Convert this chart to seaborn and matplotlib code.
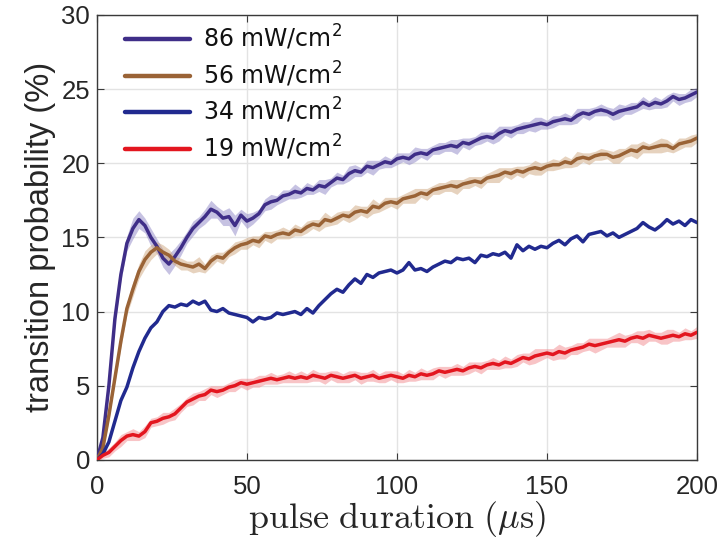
import numpy as np
import pandas as pd
import matplotlib
matplotlib.use("Agg")
import matplotlib.pyplot as plt
import seaborn as sns

# pulse duration (us), every 2 us
t_us = list(range(0, 201, 2))

p86 = [0, 1.5, 5.0, 9.5, 12.5, 14.6, 15.6, 16.2, 15.8, 15.0, 14.4, 13.6, 13.2, 13.7, 14.3, 15.0,
       15.6, 16.0, 16.4, 16.9, 16.7, 16.3, 16.4, 15.8, 16.5, 16.1, 16.3, 16.6, 17.2, 17.4, 17.5,
       17.8, 17.9, 18.1, 18.0, 18.3, 18.2, 18.5, 18.4, 18.7, 19.0, 18.9, 19.3, 19.5, 19.4, 19.8,
       19.7, 19.9, 20.1, 20.0, 20.3, 20.4, 20.3, 20.6, 20.7, 20.6, 20.9, 21.0, 21.1, 21.2, 21.1,
       21.4, 21.3, 21.5, 21.7, 21.8, 21.7, 22.0, 22.2, 22.1, 22.3, 22.4, 22.5, 22.6, 22.7, 22.6,
       22.8, 22.9, 23.0, 22.9, 23.2, 23.4, 23.3, 23.5, 23.6, 23.5, 23.3, 23.5, 23.6, 23.7, 23.8,
       24.1, 23.9, 24.1, 24.0, 24.2, 24.5, 24.3, 24.4, 24.6, 24.8]
p56 = [0, 0.8, 3.0, 5.5, 8.0, 10.2, 11.5, 12.7, 13.5, 14.0, 14.3, 14.0, 13.8, 13.4, 13.2, 13.1,
       13.0, 13.2, 12.9, 13.4, 13.7, 13.6, 14.0, 14.3, 14.5, 14.6, 14.8, 14.7, 15.1, 15.0, 15.2,
       15.3, 15.2, 15.5, 15.4, 15.7, 15.9, 15.8, 16.2, 16.1, 16.3, 16.5, 16.4, 16.7, 16.8, 16.7,
       17.1, 17.0, 17.3, 17.4, 17.3, 17.6, 17.7, 17.8, 18.0, 17.9, 18.2, 18.3, 18.4, 18.5, 18.4,
       18.6, 18.7, 18.8, 18.7, 19.0, 19.1, 19.2, 19.4, 19.3, 19.5, 19.4, 19.6, 19.7, 19.6, 19.8,
       19.9, 19.9, 20.1, 20.0, 20.3, 20.4, 20.3, 20.5, 20.6, 20.6, 20.4, 20.5, 20.7, 20.9, 20.8,
       21.1, 21.0, 21.1, 21.2, 21.2, 21.0, 21.3, 21.4, 21.5, 21.7]
p34 = [0, 0.4, 1.2, 2.6, 4.0, 4.9, 6.2, 7.3, 8.2, 8.9, 9.3, 10.0, 10.4, 10.3, 10.5, 10.4,
       10.7, 10.5, 10.7, 10.1, 10.0, 10.2, 9.9, 9.8, 9.7, 9.6, 9.3, 9.6, 9.5, 9.6, 9.9,
       9.8, 9.9, 10.0, 9.8, 10.2, 9.9, 10.4, 10.8, 11.2, 11.5, 11.3, 11.8, 12.2, 11.9, 12.5,
       12.3, 12.6, 12.7, 12.8, 12.6, 12.8, 13.3, 12.8, 12.9, 12.7, 13.0, 13.2, 13.4, 13.3, 13.6,
       13.5, 13.6, 13.3, 13.8, 13.7, 13.9, 13.8, 14.0, 13.6, 14.5, 14.1, 14.4, 14.2, 14.4, 14.3,
       14.6, 14.8, 14.5, 14.9, 15.1, 14.7, 15.2, 15.3, 15.4, 15.1, 15.3, 15.0, 15.2, 15.4, 15.6,
       16.0, 15.7, 15.5, 15.8, 16.2, 15.9, 16.1, 15.8, 16.2, 16.0]
p19 = [0, 0.3, 0.5, 0.9, 1.3, 1.6, 1.7, 1.6, 1.9, 2.5, 2.6, 2.8, 2.9, 3.1, 3.5, 3.9,
       4.1, 4.3, 4.4, 4.7, 4.6, 4.7, 4.9, 5.0, 5.2, 5.1, 5.2, 5.3, 5.4, 5.5, 5.4,
       5.5, 5.6, 5.5, 5.6, 5.5, 5.7, 5.6, 5.5, 5.7, 5.6, 5.5, 5.6, 5.7, 5.5, 5.6,
       5.7, 5.5, 5.6, 5.7, 5.6, 5.5, 5.7, 5.6, 5.8, 5.7, 5.8, 6.0, 5.9, 6.0, 6.1,
       6.0, 6.2, 6.3, 6.2, 6.4, 6.5, 6.4, 6.6, 6.5, 6.7, 6.9, 6.8, 7.0, 7.1, 7.2,
       7.1, 7.3, 7.2, 7.4, 7.5, 7.6, 7.8, 7.7, 7.8, 7.9, 8.0, 8.1, 8.0, 8.2, 8.3,
       8.2, 8.4, 8.3, 8.2, 8.3, 8.4, 8.3, 8.5, 8.4, 8.6]

# half-width of shaded uncertainty bands
e86 = [0.1, 0.2, 0.3, 0.4, 0.4, 0.5, 0.7, 0.6, 0.5, 0.6, 0.5, 0.6, 0.7, 0.6, 0.5, 0.4,
       0.5, 0.4, 0.5, 0.6, 0.4, 0.5, 0.6, 0.7, 0.4, 0.5, 0.4, 0.3, 0.4, 0.5, 0.3,
       0.4, 0.3, 0.5, 0.3, 0.4, 0.3, 0.4, 0.5, 0.3, 0.4, 0.3, 0.5, 0.4, 0.3, 0.4,
       0.5, 0.3, 0.4, 0.3, 0.4, 0.3, 0.4, 0.5, 0.3, 0.4, 0.3, 0.4, 0.3, 0.4, 0.5,
       0.3, 0.4, 0.3, 0.4, 0.3, 0.4, 0.5, 0.3, 0.4, 0.3, 0.4, 0.3, 0.5, 0.4, 0.3,
       0.4, 0.3, 0.4, 0.3, 0.5, 0.3, 0.4, 0.3, 0.4, 0.3, 0.4, 0.5, 0.3, 0.4, 0.3,
       0.4, 0.3, 0.4, 0.3, 0.4, 0.3, 0.4, 0.3, 0.4, 0.3]
e56 = [0.1, 0.2, 0.3, 0.3, 0.4, 0.4, 0.5, 0.5, 0.6, 0.5, 0.4, 0.5, 0.4, 0.3, 0.4, 0.3,
       0.4, 0.5, 0.3, 0.4, 0.3, 0.4, 0.3, 0.4, 0.3, 0.4, 0.3, 0.4, 0.3, 0.4, 0.3,
       0.4, 0.3, 0.4, 0.3, 0.4, 0.3, 0.4, 0.5, 0.3, 0.4, 0.3, 0.4, 0.5, 0.3, 0.4,
       0.5, 0.3, 0.4, 0.3, 0.4, 0.3, 0.4, 0.5, 0.3, 0.4, 0.3, 0.4, 0.3, 0.4, 0.5,
       0.3, 0.4, 0.3, 0.4, 0.3, 0.4, 0.5, 0.3, 0.4, 0.3, 0.4, 0.3, 0.5, 0.4, 0.3,
       0.4, 0.3, 0.4, 0.3, 0.5, 0.3, 0.4, 0.3, 0.4, 0.3, 0.4, 0.5, 0.3, 0.4, 0.5,
       0.4, 0.3, 0.4, 0.5, 0.4, 0.3, 0.4, 0.3, 0.4, 0.3]
e34 = [0.05] * 101
e19 = [0.1, 0.2, 0.3, 0.3, 0.4, 0.3, 0.4, 0.3, 0.4, 0.3, 0.3, 0.4, 0.3, 0.4, 0.3, 0.3,
       0.4, 0.3, 0.4, 0.3, 0.4, 0.3, 0.3, 0.4, 0.3, 0.4, 0.3, 0.4, 0.3, 0.4, 0.3,
       0.3, 0.4, 0.3, 0.4, 0.3, 0.4, 0.3, 0.4, 0.3, 0.4, 0.3, 0.4, 0.3, 0.4, 0.3,
       0.4, 0.3, 0.4, 0.3, 0.4, 0.3, 0.4, 0.3, 0.4, 0.3, 0.4, 0.3, 0.4, 0.3, 0.4,
       0.3, 0.4, 0.3, 0.4, 0.3, 0.4, 0.3, 0.4, 0.3, 0.4, 0.3, 0.4, 0.5, 0.4, 0.3,
       0.4, 0.5, 0.4, 0.3, 0.4, 0.3, 0.4, 0.5, 0.4, 0.3, 0.4, 0.5, 0.4, 0.3, 0.4,
       0.5, 0.4, 0.3, 0.4, 0.5, 0.4, 0.3, 0.4, 0.3, 0.4]

labels = ["86 mW/cm$^2$", "56 mW/cm$^2$", "34 mW/cm$^2$", "19 mW/cm$^2$"]
series = [p86, p56, p34, p19]
errors = [e86, e56, e34, e19]
colors = ["#3f2e88", "#9a6336", "#212a8f", "#e3161f"]
band_colors = ["#8f86c6", "#cfa77f", "#6f7acb", "#f28a8f"]

rows = []
for lab, ys in zip(labels, series):
    for t, y in zip(t_us, ys):
        rows.append({"t": t, "p": y, "power": lab})
df = pd.DataFrame(rows)

sns.set_theme(style="whitegrid")
plt.rcParams["font.family"] = ["Liberation Sans", "DejaVu Sans"]
plt.rcParams["mathtext.fontset"] = "cm"

fig = plt.figure(figsize=(7.23, 5.54), dpi=100)
ax = fig.add_axes([0.134, 0.170, 0.830, 0.803])

for ys, es, bc in zip(series, errors, band_colors):
    ys = np.array(ys); es = np.array(es)
    ax.fill_between(t_us, ys - es, ys + es, color=bc, alpha=0.5, lw=0, zorder=2)

sns.lineplot(data=df, x="t", y="p", hue="power", hue_order=labels,
             palette=dict(zip(labels, colors)), linewidth=2.5, ax=ax,
             zorder=3, legend=True)

ax.set_xlim(0, 200)
ax.set_ylim(0, 30)
ax.set_xticks([0, 50, 100, 150, 200])
ax.set_yticks([0, 5, 10, 15, 20, 25, 30])
ax.grid(True, color="#e3e3e3", linewidth=1.0)
ax.set_facecolor("white")
for s in ax.spines.values():
    s.set_visible(True)
    s.set_color("#3a3a3a")
    s.set_linewidth(1.0)
ax.tick_params(axis="both", which="both", direction="in", length=5, width=0.8,
               color="#3a3a3a", labelsize=18.5, labelcolor="#262626",
               top=True, right=True, bottom=True, left=True)
ax.tick_params(axis="x", pad=11)
ax.tick_params(axis="y", pad=5)

ax.set_xlabel(r"$\mathrm{pulse\ duration}\ (\mu\mathrm{s})$", fontsize=26, color="#262626", labelpad=0)
ax.set_ylabel("transition probability (%)", fontsize=23.5, color="#262626", labelpad=4)

handles, labs = ax.get_legend_handles_labels()
for h in handles:
    h.set_linewidth(3.2)
leg = ax.legend(handles, labs, loc="upper left", bbox_to_anchor=(0.012, 1.03),
                frameon=False, handlelength=2.75, handletextpad=0.55,
                labelspacing=0.32, prop={"family": "DejaVu Sans", "size": 17})
for txt in leg.get_texts():
    txt.set_color("#111111")
    txt.set_math_fontfamily("dejavusans")

fig.savefig("out.png", dpi=100)
